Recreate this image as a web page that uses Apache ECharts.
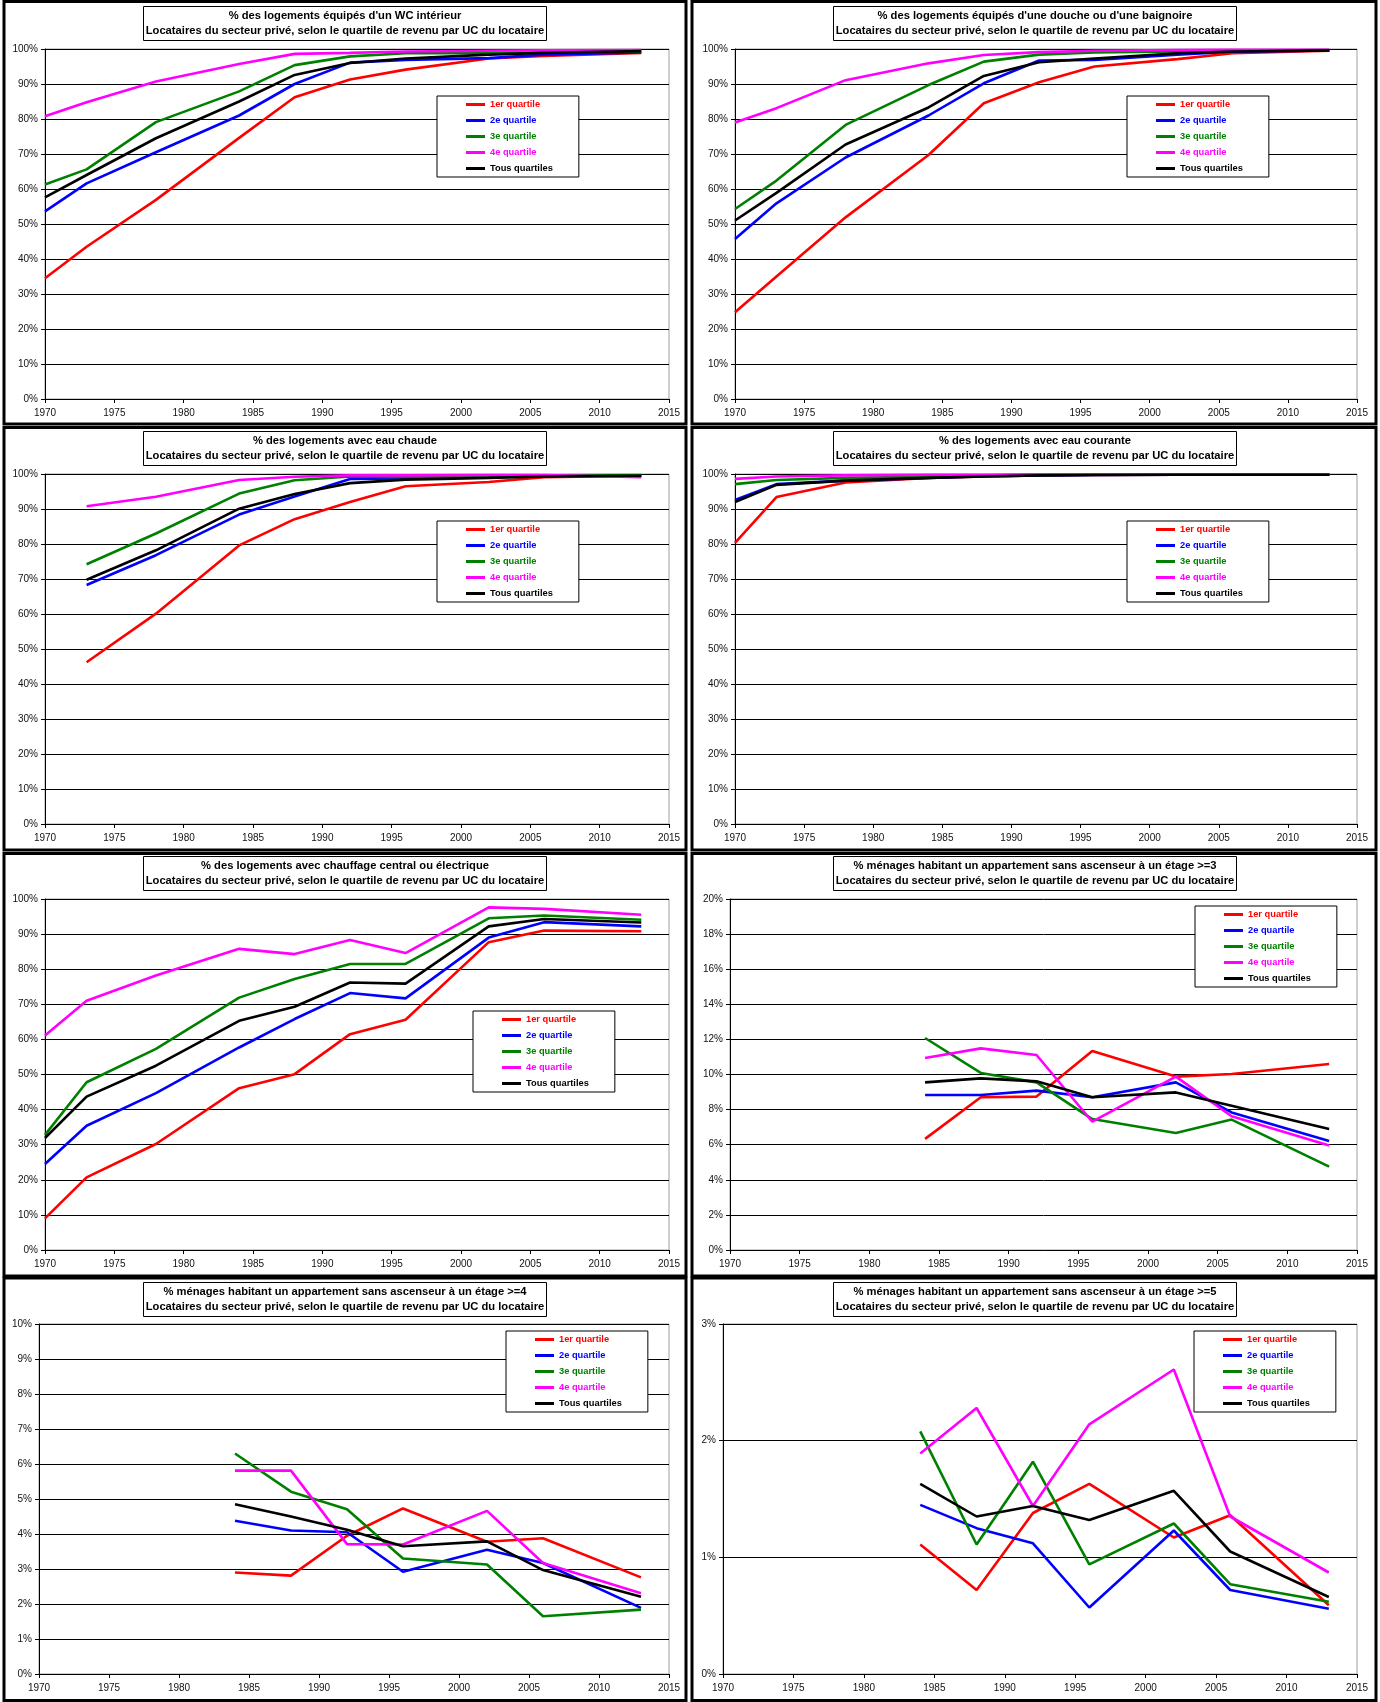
<!DOCTYPE html>
<html><head><meta charset="utf-8">
<script src="https://cdn.jsdelivr.net/npm/echarts@6/dist/echarts.min.js"></script>
<style>html,body{margin:0;padding:0;background:#fff}#c{width:1380px;height:1702px}</style>
</head><body><div id="c"></div>
<script>
// ---------- data ----------
const seriesNames = ["1er quartile","2e quartile","3e quartile","4e quartile","Tous quartiles"];
const seriesColors = ["#ff0000","#0000ff","#008000","#ff00ff","#000000"];

const yearsAll  = [1970,1973,1978,1984,1988,1992,1996,2002,2006,2013];
const years1973 = [1973,1978,1984,1988,1992,1996,2002,2006,2013];
const years1984 = [1984,1988,1992,1996,2002,2006,2013];

const subtitle = "Locataires du secteur privé, selon le quartile de revenu par UC du locataire";
const titles = [
  "% des logements équipés d'un WC intérieur",
  "% des logements équipés d'une douche ou d'une baignoire",
  "% des logements avec eau chaude",
  "% des logements avec eau courante",
  "% des logements avec chauffage central ou électrique",
  "% ménages habitant un appartement sans ascenseur à un étage >=3",
  "% ménages habitant un appartement sans ascenseur à un étage >=4",
  "% ménages habitant un appartement sans ascenseur à un étage >=5"
];

const wc_q1  = [34.5,43.5,56.9,74.6,86.2,91.3,94.1,97.3,98.0,98.9];
const wc_q2  = [53.6,61.6,70.5,81.0,90.0,96.1,96.9,97.4,98.4,99.0];
const wc_q3  = [61.3,65.6,79.1,87.9,95.4,97.9,98.8,98.8,99.0,99.3];
const wc_q4  = [80.8,84.8,90.7,95.7,98.6,98.9,99.3,99.5,99.6,99.7];
const wc_all = [57.6,64.0,74.5,85.0,92.6,96.0,97.3,98.4,98.9,99.4];

const douche_q1  = [24.8,35.0,51.9,69.7,84.5,90.5,95.0,97.1,98.8,99.5];
const douche_q2  = [45.7,55.9,69.0,81.0,90.2,96.7,96.9,98.4,99.2,99.6];
const douche_q3  = [54.3,62.4,78.3,89.7,96.4,98.4,99.0,99.3,99.5,99.7];
const douche_q4  = [79.0,83.1,91.1,95.9,98.3,99.1,99.5,99.7,99.8,99.8];
const douche_all = [51.0,58.9,72.7,83.3,92.3,96.2,97.3,98.8,99.3,99.6];

const chaude_q1  = [46.2,60.1,79.6,87.1,92.0,96.5,97.7,99.1,99.5];
const chaude_q2  = [68.3,76.8,88.4,93.6,98.6,98.7,99.0,99.5,99.6];
const chaude_q3  = [74.2,83.0,94.4,98.2,99.3,99.1,99.3,99.6,99.7];
const chaude_q4  = [90.8,93.5,98.3,99.2,99.6,99.6,99.7,99.7,99.1];
const chaude_all = [69.8,78.2,90.1,94.3,97.4,98.4,98.9,99.3,99.5];

const courante_q1  = [80.3,93.4,97.6,98.9,99.3,99.6,99.7,99.8,99.8,99.8];
const courante_q2  = [92.6,97.1,98.1,98.9,99.4,99.6,99.7,99.8,99.8,99.9];
const courante_q3  = [97.1,98.3,98.9,99.2,99.5,99.7,99.8,99.8,99.8,99.8];
const courante_q4  = [98.6,99.3,99.6,99.8,99.8,99.9,99.9,99.9,99.9,99.9];
const courante_all = [92.0,96.9,98.1,98.9,99.3,99.6,99.7,99.8,99.8,99.8];

const chauffage_q1  = [9.0,20.7,30.2,46.1,50.1,61.5,65.6,87.7,91.0,90.8];
const chauffage_q2  = [24.5,35.4,44.7,57.7,65.8,73.2,71.7,89.0,93.4,92.2];
const chauffage_q3  = [32.8,47.8,57.3,71.9,77.2,81.5,81.5,94.5,95.3,94.1];
const chauffage_q4  = [61.1,71.0,78.2,85.8,84.3,88.3,84.6,97.6,97.2,95.5];
const chauffage_all = [31.9,43.7,52.5,65.3,69.3,76.2,75.9,92.2,94.3,93.3];

const etage3_q1  = [6.33,8.70,8.74,11.34,9.88,10.03,10.60];
const etage3_q2  = [8.83,8.83,9.08,8.70,9.55,7.84,6.21];
const etage3_q3  = [12.08,10.09,9.55,7.46,6.67,7.43,4.75];
const etage3_q4  = [10.94,11.49,11.11,7.31,9.88,7.62,5.95];
const etage3_all = [9.55,9.78,9.61,8.70,8.98,8.22,6.89];

const etage4_q1  = [2.90,2.81,3.95,4.73,3.78,3.88,2.76];
const etage4_q2  = [4.38,4.10,4.05,2.92,3.55,3.17,1.89];
const etage4_q3  = [6.30,5.21,4.71,3.30,3.13,1.65,1.84];
const etage4_q4  = [5.81,5.81,3.71,3.70,4.66,3.17,2.31];
const etage4_all = [4.85,4.50,4.12,3.65,3.79,2.97,2.21];

const etage5_q1  = [1.11,0.72,1.38,1.63,1.17,1.36,0.59];
const etage5_q2  = [1.45,1.25,1.12,0.57,1.23,0.72,0.56];
const etage5_q3  = [2.08,1.11,1.82,0.94,1.29,0.77,0.62];
const etage5_q4  = [1.89,2.28,1.44,2.14,2.61,1.35,0.87];
const etage5_all = [1.63,1.35,1.44,1.32,1.57,1.05,0.66];

const yMax      = [100,100,100,100,100,20,10,3];
const yInterval = [10,10,10,10,10,2,1,1];

// ---------- layout ----------
const FONT = "'Liberation Sans', Arial, sans-serif";
const panels = [
  {years: yearsAll,  data:[wc_q1,wc_q2,wc_q3,wc_q4,wc_all],
   grid:{left:45,top:49,width:624,height:350}, titleX:345, titleY:6, legend:[437,96]},
  {years: yearsAll,  data:[douche_q1,douche_q2,douche_q3,douche_q4,douche_all],
   grid:{left:735,top:49,width:622,height:350}, titleX:1035, titleY:6, legend:[1127,96]},
  {years: years1973, data:[chaude_q1,chaude_q2,chaude_q3,chaude_q4,chaude_all],
   grid:{left:45,top:474,width:624,height:350}, titleX:345, titleY:431, legend:[437,521]},
  {years: yearsAll,  data:[courante_q1,courante_q2,courante_q3,courante_q4,courante_all],
   grid:{left:735,top:474,width:622,height:350}, titleX:1035, titleY:431, legend:[1127,521]},
  {years: yearsAll,  data:[chauffage_q1,chauffage_q2,chauffage_q3,chauffage_q4,chauffage_all],
   grid:{left:45,top:899,width:624,height:351}, titleX:345, titleY:856, legend:[473,1011]},
  {years: years1984, data:[etage3_q1,etage3_q2,etage3_q3,etage3_q4,etage3_all],
   grid:{left:730,top:899,width:627,height:351}, titleX:1035, titleY:856, legend:[1195,906]},
  {years: years1984, data:[etage4_q1,etage4_q2,etage4_q3,etage4_q4,etage4_all],
   grid:{left:39,top:1324,width:630,height:350}, titleX:345, titleY:1282, legend:[506,1331]},
  {years: years1984, data:[etage5_q1,etage5_q2,etage5_q3,etage5_q4,etage5_all],
   grid:{left:723,top:1324,width:634,height:350}, titleX:1035, titleY:1282, legend:[1194,1331]}
];

const frames = [];
const colX = [[4,686],[692,1376]];
const rowY = [[1.5,424],[427.5,850],[853.5,1276],[1278,1700.5]];
for (let r=0;r<4;r++) for (let c=0;c<2;c++) {
  frames.push({type:'rect', silent:true, z:100,
    shape:{x:colX[c][0], y:rowY[r][0], width:colX[c][1]-colX[c][0], height:rowY[r][1]-rowY[r][0]},
    style:{fill:'none', stroke:'#000', lineWidth:3}});
}

const option = {
  animation:false,
  backgroundColor:'#fff',
  textStyle:{fontFamily:FONT},
  grid:[], xAxis:[], yAxis:[], series:[], title:[], legend:[],
  graphic:{elements:frames}
};

panels.forEach((p,i)=>{
  option.grid.push(Object.assign({show:true, borderColor:'#a0a0a0', borderWidth:1,
    backgroundColor:'transparent', containLabel:false, outerBoundsMode:'none'}, p.grid));
  option.xAxis.push({type:'value', gridIndex:i, min:1970, max:2015, interval:5,
    axisLine:{show:true, onZero:false, lineStyle:{color:'#000', width:1}},
    axisTick:{show:true, length:4, lineStyle:{color:'#000'}},
    axisLabel:{fontSize:10, color:'#111', margin:9, fontFamily:FONT,
      formatter:(v)=>String(v),
      showMinLabel:true, showMaxLabel:true, hideOverlap:false},
    splitLine:{show:false}});
  option.yAxis.push({type:'value', gridIndex:i, min:0, max:yMax[i], interval:yInterval[i],
    axisLine:{show:true, lineStyle:{color:'#000', width:1}},
    axisTick:{show:true, length:4, lineStyle:{color:'#000'}},
    axisLabel:{fontSize:10, color:'#111', margin:7, fontFamily:FONT, formatter:'{value}%',
      showMinLabel:true, showMaxLabel:true},
    splitLine:{show:true, lineStyle:{color:'#000', width:1}}});
  option.title.push({left:p.titleX-2, top:p.titleY, textAlign:'center',
    text: titles[i] + '\n' + subtitle, padding:[3,2,3,2],
    borderColor:'#000', borderWidth:1, backgroundColor:'#fff',
    textStyle:{fontSize:11.2, fontWeight:'bold', color:'#000', fontFamily:FONT, lineHeight:14.5}});
  option.legend.push({left:p.legend[0], top:p.legend[1], orient:'vertical', icon:'rect',
    itemWidth:19, itemHeight:3, itemGap:7, itemTextGap:3, padding:[4,26,4,29],
    borderColor:'#000', borderWidth:1, backgroundColor:'#fff', selectedMode:false, z:20,
    textStyle:{fontSize:9.3, fontWeight:'bold', fontFamily:FONT},
    data: seriesNames.map((n,k)=>({name:n, itemStyle:{color:seriesColors[k]}, textStyle:{color:seriesColors[k]}}))});
  p.data.forEach((vals,k)=>{
    option.series.push({type:'line', name:seriesNames[k], xAxisIndex:i, yAxisIndex:i,
      data: p.years.map((y,j)=>[y, vals[j]]),
      symbol:'none', showSymbol:false, clip:false, z:3,
      color: seriesColors[k],
      lineStyle:{color:seriesColors[k], width:2.6}});
  });
});

const chart = echarts.init(document.getElementById('c'), null, {renderer:'canvas'});
chart.setOption(option);
</script>
</body></html>
